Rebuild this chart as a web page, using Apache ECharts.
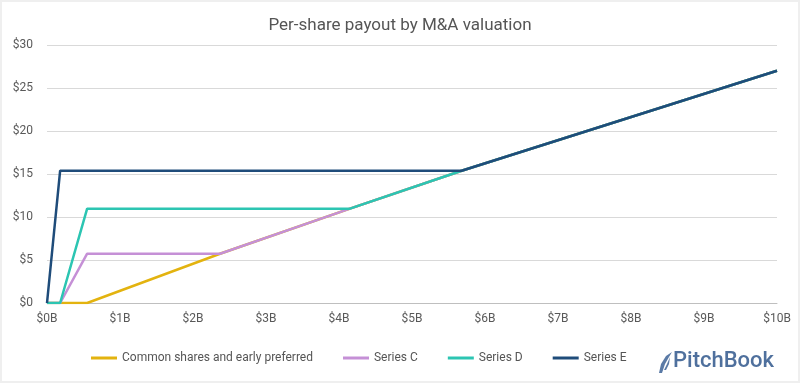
<!DOCTYPE html>
<html>
<head>
<meta charset="utf-8">
<script src="https://cdn.jsdelivr.net/npm/echarts@6/dist/echarts.min.js"></script>
<style>
html,body{margin:0;padding:0;background:#f0f0f0;}
#c{width:800px;height:383px;box-sizing:border-box;border:2px solid #efefef;background:#fff;}
</style>
</head>
<body>
<div id="c"></div>
<script>
// Valuation breakpoints in $B
const valuations = [0, 0.18, 0.55, 0.56, 2.37, 4.15, 5.68, 10];
const commonShares = [0, 0, 0, 0, 5.73, 10.97, 15.38, 27.0];
const seriesC = [0, 0, 5.73, 5.73, 5.73, 10.97, 15.38, 27.0];
const seriesD = [0, 0, 10.97, 10.97, 10.97, 10.97, 15.38, 27.0];
const seriesE = [0, 15.38, 15.38, 15.38, 15.38, 15.38, 15.38, 27.0];
const seriesNames = ['Common shares and early preferred', 'Series C', 'Series D', 'Series E'];
const colors = ['#E3B30F', '#C590D6', '#2CC5B2', '#1F4C7A'];

const FONT = "Roboto, sans-serif";
const pair = arr => valuations.map((v, i) => [v, arr[i]]);
const allData = [commonShares, seriesC, seriesD, seriesE];

const chart = echarts.init(document.getElementById('c'));
chart.setOption({
  animation: false,
  title: {
    text: 'Per-share payout by M&A valuation',
    left: 'center', top: 10,
    textStyle: {fontFamily: FONT, fontWeight: 'normal', fontSize: 17, color: '#555'}
  },
  grid: {left: 45, right: 21, top: 43, bottom: 78},
  legend: {
    bottom: 12, left: 84,
    icon: 'rect', itemWidth: 26, itemHeight: 3, itemGap: 30,
    textStyle: {fontFamily: FONT, fontSize: 12, color: '#555'},
    data: seriesNames
  },
  xAxis: {
    type: 'value', min: 0, max: 10, interval: 1,
    axisLine: {lineStyle: {color: '#bfbfbf', width: 1}},
    axisTick: {show: false},
    splitLine: {show: false},
    axisLabel: {formatter: v => '$' + v + 'B', fontFamily: FONT, fontSize: 12, color: '#595959', margin: 10}
  },
  yAxis: {
    type: 'value', min: 0, max: 30, interval: 5,
    axisLine: {show: false}, axisTick: {show: false},
    splitLine: {lineStyle: {color: '#d9d9d9', width: 1}},
    axisLabel: {formatter: v => '$' + v, fontFamily: FONT, fontSize: 12, color: '#595959', margin: 14}
  },
  series: seriesNames.map((n, i) => ({
    name: n, type: 'line', data: pair(allData[i]),
    showSymbol: false, symbol: 'none',
    lineStyle: {color: colors[i], width: 2.5},
    itemStyle: {color: colors[i]},
    z: 2 + i
  })),
  graphic: [
    {type: 'polygon',
      shape: {points: [[670, 350], [664, 354], [659, 362], [657, 371], [660, 371], [663, 362], [667, 355]]},
      style: {fill: '#5a7aa6'}},
    {type: 'polygon',
      shape: {points: [[668, 355], [665, 362], [662, 368], [664, 368], [667, 362]]},
      style: {fill: '#5a7aa6'}},
    {type: 'text', left: 671, top: 348,
      style: {text: 'PitchBook', fontFamily: FONT, fontSize: 22, fontWeight: 500, fill: '#4f709d'}}
  ]
});
</script>
</body>
</html>
